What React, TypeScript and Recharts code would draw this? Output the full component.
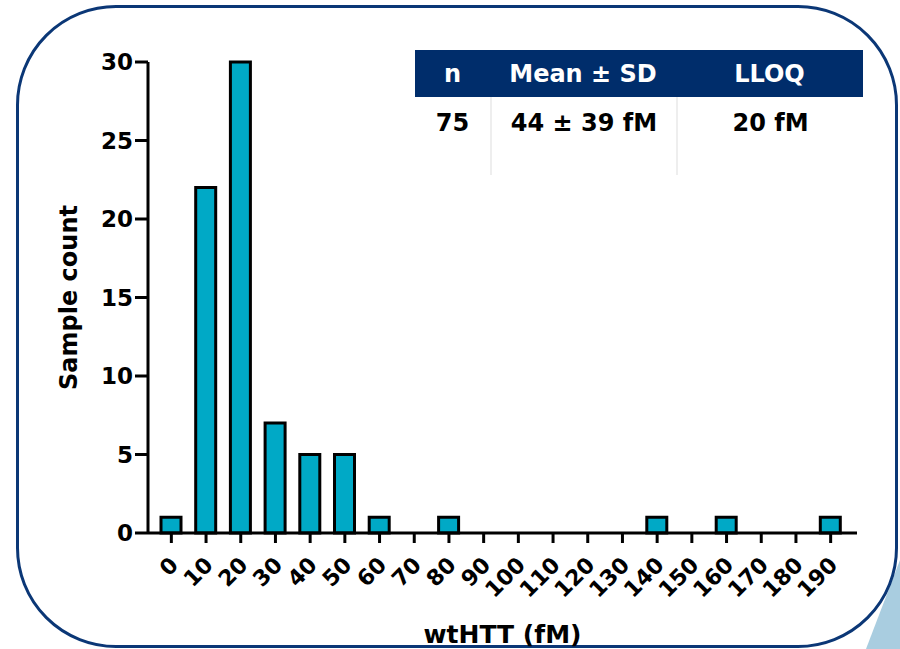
import { BarChart, Bar, XAxis, YAxis } from "recharts";

const bins = ['0', '10', '20', '30', '40', '50', '60', '70', '80', '90', '100', '110', '120', '130', '140', '150', '160', '170', '180', '190'];
const counts = [1, 22, 30, 7, 5, 5, 1, 0, 1, 0, 0, 0, 0, 0, 1, 0, 1, 0, 0, 1];
const yTicks = [0, 5, 10, 15, 20, 25, 30];

const tableHead = ['n', 'Mean ± SD', 'LLOQ'];
const tableRow = ['75', '44 ± 39 fM', '20 fM'];

const data = bins.map((b, i) => ({ bin: b, count: counts[i] }));

const FONT = "Verdana, 'DejaVu Sans', sans-serif";

const XTick = ({ x, y, payload }: any) => (
  <text
    x={0}
    y={0}
    transform={`translate(${x + 3}, ${y + 16}) rotate(-45)`}
    textAnchor="end"
    dominantBaseline="central"
    fontFamily={FONT}
    fontWeight="bold"
    fontSize={22}
    fill="#000"
  >
    {payload.value}
  </text>
);

const colW = [75, 186, 187];

export default function App() {
  return (
    <div style={{ position: 'absolute', left: 0, top: 0, width: 900, height: 649, background: '#fff', overflow: 'hidden' }}>
      <svg width={900} height={649} style={{ position: 'absolute', left: 0, top: 0 }}>
        <polygon points="866,649 900,560 900,649" fill="#a9cde0" />
      </svg>
      <div
        style={{
          position: 'absolute',
          left: 16,
          top: 5,
          width: 876,
          height: 637,
          border: '3px solid #0b3776',
          borderRadius: 100,
          background: '#fff',
        }}
      />
      <div style={{ position: 'absolute', left: 0, top: 0 }}>
        <BarChart width={900} height={649} data={data} margin={{ top: 62, right: 43, bottom: 0, left: 0 }} barSize={20}>
          <XAxis
            dataKey="bin"
            interval={0}
            tick={<XTick />}
            tickSize={10}
            height={116}
            padding={{ left: 6, right: 9 }}
            axisLine={{ stroke: '#000', strokeWidth: 3 }}
            tickLine={{ stroke: '#000', strokeWidth: 3 }}
            label={{ value: 'wtHTT (fM)', position: 'insideBottom', offset: 6, fontFamily: FONT, fontWeight: 'bold', fontSize: 25, fill: '#000' }}
          />
          <YAxis
            width={148}
            domain={[0, 30]}
            ticks={yTicks}
            interval={0}
            tickSize={13}
            axisLine={{ stroke: '#000', strokeWidth: 3 }}
            tickLine={{ stroke: '#000', strokeWidth: 3 }}
            tick={{ fontFamily: FONT, fontWeight: 'bold', fontSize: 23, fill: '#000' }}
            label={{ value: 'Sample count', angle: -90, position: 'insideLeft', offset: 68, style: { textAnchor: 'middle' }, fontFamily: FONT, fontWeight: 'bold', fontSize: 24, fill: '#000' }}
          />
          <Bar dataKey="count" fill="#00a9c6" stroke="#000" strokeWidth={3} isAnimationActive={false} />
        </BarChart>
      </div>
      <div style={{ position: 'absolute', left: 415, top: 50, width: 448, fontFamily: FONT, fontWeight: 'bold', fontSize: 24 }}>
        <div style={{ display: 'flex', height: 47, background: '#002d6b', color: '#fff', alignItems: 'center' }}>
          {tableHead.map((h, i) => (
            <div key={h} style={{ width: colW[i], textAlign: 'center' }}>{h}</div>
          ))}
        </div>
        <div style={{ display: 'flex', height: 78, color: '#000' }}>
          {tableRow.map((c, i) => (
            <div
              key={c}
              style={{
                width: colW[i],
                textAlign: 'center',
                paddingTop: 12,
                borderLeft: i > 0 ? '2px solid #eeeeee' : 'none',
                boxSizing: 'border-box',
              }}
            >
              {c}
            </div>
          ))}
        </div>
      </div>
    </div>
  );
}
